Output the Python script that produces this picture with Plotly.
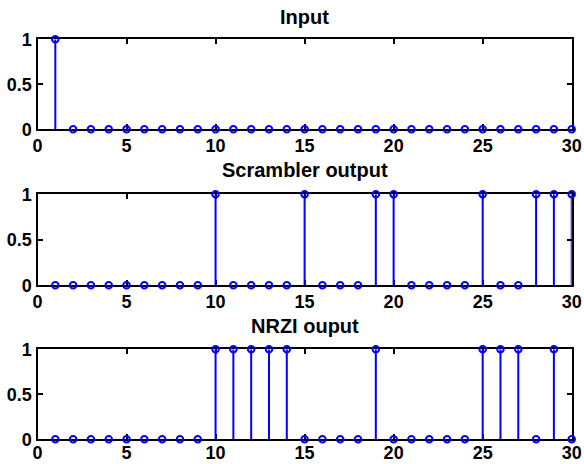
import plotly.graph_objects as go

n = list(range(1, 31))
input_bits = [1] + [0] * 29
scrambler_bits = [0,0,0,0,0,0,0,0,0,1, 0,0,0,0,1,0,0,0,1,1, 0,0,0,0,1,0,0,1,1,1]
nrzi_bits = [0,0,0,0,0,0,0,0,0,1, 1,1,1,1,0,0,0,0,1,0, 0,0,0,0,1,1,1,0,1,0]
titles = ["Input", "Scrambler output", "NRZI ouput"]
x_ticks = [0, 5, 10, 15, 20, 25, 30]
y_ticks = [0, 0.5, 1]

W, H = 584, 464
x_dom = [37.5 / W, 571.7 / W]
# window-pixel positions (top, bottom) of each axes box
boxes = [(39.3, 129.3), (194.3, 285.3), (349.3, 439.3)]
title_cy = [16.7, 169.5, 326.0]
label_standoff = [-1, -1, -4]

BLUE = "#0000ff"
tick_font = dict(family="Liberation Sans, Arial, sans-serif", size=18, color="black", weight="bold")
title_font = dict(family="Liberation Sans, Arial, sans-serif", size=20, color="black", weight="bold")

fig = go.Figure()
series = [input_bits, scrambler_bits, nrzi_bits]
for i, (vals, (top, bot)) in enumerate(zip(series, boxes)):
    xa = "x" if i == 0 else f"x{i+1}"
    ya = "y" if i == 0 else f"y{i+1}"
    fig.add_trace(go.Scatter(
        x=n, y=vals, mode="markers", xaxis=xa, yaxis=ya,
        marker=dict(symbol="circle-open", size=6.5, color=BLUE, line=dict(width=2, color=BLUE)),
        error_y=dict(type="data", symmetric=False, array=[0] * len(vals), arrayminus=vals,
                     color=BLUE, thickness=2, width=0),
        cliponaxis=False, showlegend=False, hoverinfo="x+y",
    ))
    xkey = "xaxis" if i == 0 else f"xaxis{i+1}"
    ykey = "yaxis" if i == 0 else f"yaxis{i+1}"
    fig.update_layout(**{
        xkey: dict(domain=x_dom, anchor=ya, range=[0, 30], tickvals=x_ticks,
                   ticks="inside", ticklen=5, tickwidth=2, tickcolor="black",
                   showline=True, linewidth=2.2, linecolor="black", mirror="ticks",
                   showgrid=False, zeroline=False, tickfont=tick_font, layer="below traces",
                   ticklabelstandoff=label_standoff[i], automargin=False, fixedrange=True),
        ykey: dict(domain=[1 - bot / H, 1 - top / H], anchor=xa, range=[0, 1],
                   tickvals=y_ticks, ticktext=["0", "0.5", "1"],
                   ticks="inside", ticklen=5, tickwidth=2, tickcolor="black",
                   showline=True, linewidth=2.2, linecolor="black", mirror="ticks",
                   showgrid=False, zeroline=False, tickfont=tick_font, layer="below traces",
                   automargin=False, fixedrange=True),
    })
    fig.add_annotation(text=titles[i], xref="paper", yref="paper",
                       x=(x_dom[0] + x_dom[1]) / 2, y=1 - title_cy[i] / H,
                       xanchor="center", yanchor="middle", showarrow=False, font=title_font)

fig.update_layout(width=W, height=H, margin=dict(l=0, r=0, t=0, b=0),
                  paper_bgcolor="white", plot_bgcolor="white")
# remove the default 8px page margin so the 584x464 figure fills the window exactly
fig.write_html("out.html",
               config={"displayModeBar": False},
               post_script="document.body.style.margin='0';"
                           "document.documentElement.style.overflow='hidden';")
